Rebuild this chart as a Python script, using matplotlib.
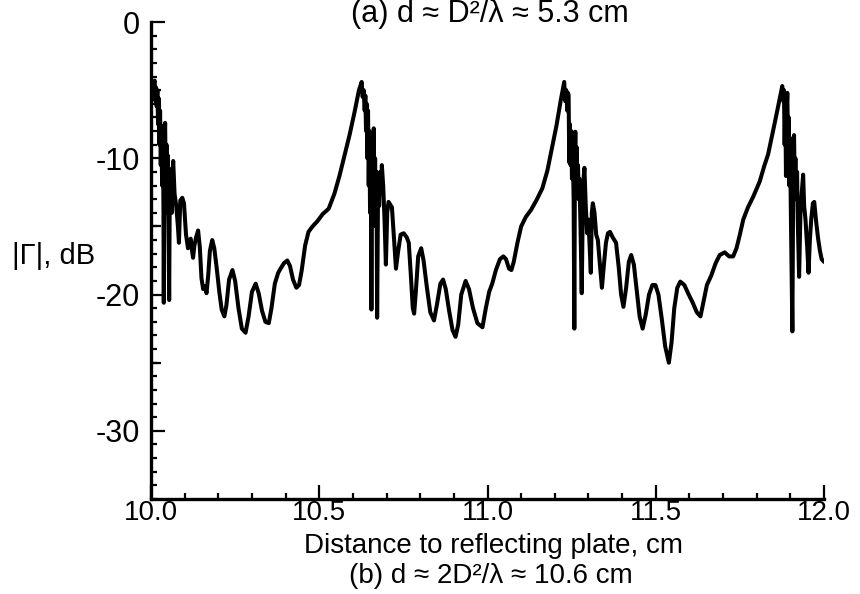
import matplotlib
matplotlib.use("Agg")
import matplotlib.pyplot as plt
from matplotlib.ticker import MultipleLocator

# |Gamma| (dB) versus distance to the reflecting plate (cm), read point by point
distance_cm = [
    # first peak and its ripple
    10.000, 10.004, 10.008, 10.011, 10.013, 10.015, 10.017, 10.019, 10.021, 10.023,
    10.025, 10.027, 10.029, 10.031, 10.033, 10.035, 10.037, 10.038, 10.040, 10.042,
    10.044, 10.046, 10.048, 10.050, 10.052, 10.054, 10.056, 10.058, 10.060, 10.062,
    10.064, 10.066, 10.070,
    # decaying oscillation, then rise to the second peak
    10.075, 10.080, 10.083, 10.087, 10.093, 10.098, 10.104, 10.110, 10.115, 10.118,
    10.122, 10.125, 10.129, 10.134, 10.140, 10.145, 10.150, 10.155, 10.160, 10.165,
    10.170, 10.175, 10.182, 10.188, 10.195, 10.203, 10.210, 10.218, 10.224, 10.232,
    10.242, 10.250, 10.260, 10.270, 10.281, 10.290, 10.300, 10.311, 10.320, 10.330,
    10.340, 10.350, 10.358, 10.368, 10.378, 10.385, 10.395, 10.405, 10.413, 10.422,
    10.432, 10.440, 10.448, 10.458, 10.468, 10.480, 10.495, 10.510, 10.528, 10.545,
    10.560, 10.575, 10.590, 10.605, 10.618,
    # second peak
    10.626, 10.629, 10.632, 10.635, 10.637, 10.639, 10.641, 10.643, 10.645, 10.647,
    10.649, 10.651, 10.653, 10.655, 10.657, 10.659, 10.661, 10.662, 10.664, 10.666,
    10.668, 10.670, 10.672, 10.675, 10.678, 10.681, 10.684, 10.686, 10.690, 10.694,
    10.698, 10.702,
    10.706, 10.711, 10.716, 10.721, 10.728, 10.734, 10.742, 10.751, 10.760, 10.766,
    10.772, 10.778, 10.782, 10.787, 10.794, 10.803, 10.810, 10.820, 10.830, 10.841,
    10.850, 10.860, 10.868, 10.876, 10.886, 10.896, 10.905, 10.913, 10.922, 10.935,
    10.945, 10.957, 10.970, 10.985, 10.995, 11.005, 11.014, 11.025, 11.037, 11.047,
    11.055, 11.064, 11.071, 11.078, 11.089, 11.100, 11.114, 11.129, 11.145, 11.163,
    11.178, 11.192, 11.205, 11.218,
    # third peak
    11.228, 11.231, 11.234, 11.237, 11.239, 11.241, 11.243, 11.245, 11.247, 11.249,
    11.251, 11.253, 11.256, 11.258, 11.260, 11.261, 11.263, 11.265, 11.267, 11.269,
    11.271, 11.273, 11.276, 11.280, 11.284, 11.288, 11.292, 11.296, 11.300, 11.304,
    11.307, 11.310, 11.313,
    11.318, 11.323, 11.328, 11.333, 11.340, 11.346, 11.352, 11.358, 11.364, 11.372,
    11.382, 11.390, 11.397, 11.404, 11.412, 11.420, 11.427, 11.435, 11.443, 11.452,
    11.461, 11.470, 11.480, 11.490, 11.499, 11.508, 11.518, 11.528, 11.539, 11.547,
    11.555, 11.564, 11.573, 11.585, 11.598, 11.610, 11.622, 11.633, 11.642, 11.652,
    11.665, 11.678, 11.690, 11.705, 11.718, 11.730, 11.740, 11.750, 11.760, 11.774,
    11.790, 11.809, 11.822, 11.834, 11.846, 11.857, 11.867,
    # fourth peak
    11.876, 11.879, 11.881, 11.883, 11.885, 11.887, 11.889, 11.891, 11.893, 11.895,
    11.897, 11.899, 11.902, 11.906, 11.909, 11.911, 11.913, 11.915, 11.918, 11.920,
    11.922, 11.926, 11.930, 11.934, 11.938, 11.941,
    11.945, 11.950, 11.954, 11.958, 11.962, 11.967, 11.971, 11.976, 11.982, 11.988,
    11.993, 12.000,
]
gamma_db = [
    -5.8, -5.0, -4.5, -4.3, -5.8, -4.8, -6.2, -5.0, -7.5, -5.6,
    -9.0, -6.5, -10.5, -7.6, -12.0, -8.5, -13.5, -20.6, -9.0, -7.4,
    -12.5, -9.0, -14.0, -9.8, -15.0, -20.4, -11.5, -13.5, -10.8, -14.0,
    -11.0, -10.2, -12.6,
    -13.5, -15.0, -16.2, -13.1, -12.9, -13.3, -15.6, -16.6, -16.0, -15.9,
    -16.8, -17.3, -16.4, -15.8, -15.3, -16.5, -18.8, -19.6, -19.4, -19.9,
    -18.6, -16.8, -16.0, -16.6, -18.0, -19.8, -21.1, -21.6, -20.8, -18.9,
    -18.2, -19.0, -21.0, -22.5, -22.8, -21.6, -19.8, -19.2, -19.9, -21.2,
    -22.0, -22.1, -21.0, -19.2, -18.4, -18.1, -17.7, -17.5, -17.9, -18.9,
    -19.5, -19.3, -18.2, -16.4, -15.4, -15.0, -14.6, -14.1, -13.7, -12.6,
    -11.3, -9.8, -8.3, -6.6, -5.0,
    -4.4, -5.5, -5.0, -6.5, -5.4, -8.0, -6.0, -10.0, -6.5, -12.0,
    -8.0, -14.0, -9.0, -21.1, -9.5, -13.0, -8.5, -7.8, -14.0, -10.0,
    -15.0, -11.0, -21.7, -11.5, -13.5, -11.0, -12.5, -10.5, -12.0, -14.5,
    -17.8, -14.0,
    -13.2, -13.4, -13.6, -15.5, -18.1, -16.9, -15.6, -15.5, -15.8, -16.2,
    -18.5, -21.0, -21.4, -19.8, -17.2, -16.6, -17.5, -19.5, -21.3, -21.9,
    -20.7, -19.2, -18.9, -19.6, -21.2, -22.6, -23.1, -22.2, -20.0, -19.0,
    -19.6, -21.0, -22.1, -22.4, -21.0, -19.8, -19.2, -18.2, -17.4, -17.2,
    -17.4, -18.1, -18.2, -17.6, -16.2, -15.0, -14.3, -13.8, -13.1, -12.2,
    -10.9, -9.2, -7.6, -5.7,
    -4.4, -5.8, -5.0, -6.5, -5.2, -5.35, -10.3, -7.5, -10.5, -8.0,
    -11.5, -9.0, -13.0, -22.5, -9.0, -8.05, -11.0, -9.2, -12.5, -10.5,
    -13.0, -11.5, -14.5, -19.9, -12.0, -10.7, -13.5, -15.5, -14.5, -16.8,
    -18.4, -14.0, -13.3,
    -14.0, -15.6, -16.0, -17.5, -19.5, -17.8, -16.2, -15.5, -15.4, -15.8,
    -16.2, -18.0, -20.0, -20.9, -19.5, -17.6, -17.1, -17.8, -19.6, -21.6,
    -22.5, -21.5, -20.0, -19.3, -19.3, -20.0, -21.8, -23.8, -25.0, -23.5,
    -21.0, -19.5, -19.05, -19.3, -20.0, -20.6, -21.3, -21.6, -20.5, -19.3,
    -18.6, -17.7, -17.1, -16.9, -17.2, -17.2, -16.6, -15.6, -14.5, -13.6,
    -12.8, -11.7, -10.6, -9.7, -8.3, -7.0, -5.8,
    -4.7, -5.8, -5.0, -9.0, -6.0, -11.3, -6.5, -5.2, -9.0, -7.0,
    -12.0, -8.5, -15.0, -22.7, -9.5, -8.3, -12.0, -10.0, -13.0, -11.0,
    -14.5, -18.7, -14.0, -12.5, -11.2, -13.5,
    -14.5, -16.5, -18.4, -16.0, -14.5, -13.3, -13.2, -14.5, -15.8, -16.8,
    -17.4, -17.6,
]
assert len(distance_cm) == len(gamma_db)

x_ticks = [10.0, 10.5, 11.0, 11.5, 12.0]
x_tick_labels = ["10.0", "10.5", "11.0", "11.5", "12.0"]
y_ticks = [0, -10, -20, -30]
y_tick_labels = ["0", "-10", "-20", "-30"]
long_minor_y = [-5, -15, -25]

title_top = "(a) d ≈ D²/λ ≈ 5.3 cm"
title_bottom = "(b) d ≈ 2D²/λ ≈ 10.6 cm"
x_label = "Distance to reflecting plate, cm"
y_label = "|Γ|, dB"

label_font = ["Liberation Sans", "DejaVu Sans"]

fig = plt.figure(figsize=(8.6, 5.94), dpi=100)
ax = fig.add_axes([151 / 860, 1 - 499 / 594, 673 / 860, 477 / 594])

ax.plot(distance_cm, gamma_db, color="black", lw=2.9,
        solid_joinstyle="round", solid_capstyle="round")

ax.set_xlim(10.0, 12.0)
ax.set_ylim(-35, 0)

ax.spines["top"].set_visible(False)
ax.spines["right"].set_visible(False)
for side in ("left", "bottom"):
    ax.spines[side].set_linewidth(2.4)

ax.set_xticks(x_ticks)
ax.set_xticklabels(x_tick_labels, family=label_font, fontsize=20)
ax.set_yticks(y_ticks)
ax.set_yticklabels(y_tick_labels, family=label_font, fontsize=22)
ax.xaxis.set_minor_locator(MultipleLocator(0.1))
ax.yaxis.set_minor_locator(MultipleLocator(1))

ax.tick_params(which="major", direction="in", length=10, width=1.6)
ax.tick_params(which="minor", direction="in", length=4.5, width=1.6)
ax.tick_params(axis="x", which="major", pad=1)
ax.tick_params(axis="y", which="major", pad=8)
# every fifth dB gets a longer tick
for yv in long_minor_y:
    ax.plot([10.0, 10.0 + 10 / 336], [yv, yv], color="black", lw=1.6,
            clip_on=False, solid_capstyle="butt")

fig.text(490 / 860, 1 - 14 / 594, title_top, ha="center", va="center",
         family=label_font, fontsize=22)
fig.text(494 / 860, 1 - 546 / 594, x_label, ha="center", va="center",
         family=label_font, fontsize=20)
fig.text(491 / 860, 1 - 576 / 594, title_bottom, ha="center", va="center",
         family=label_font, fontsize=20)
fig.text(95 / 860, 1 - 256 / 594, y_label, ha="right", va="center",
         family=label_font, fontsize=21)

fig.savefig("out.png", dpi=100, facecolor="white")
